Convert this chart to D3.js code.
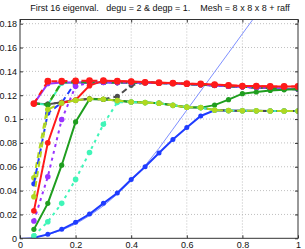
<!DOCTYPE html>
<html><head><meta charset="utf-8">
<script src="https://cdn.jsdelivr.net/npm/d3@7"></script>
<style>body{margin:0;background:#fff}svg{display:block}text{font-family:"Liberation Sans",Arial,sans-serif}</style>
</head><body><svg id="c" width="305" height="249"></svg>
<script>
const titleText = "First 16 eigenval.   degu = 2 & degp = 1.    Mesh = 8 x 8 x 8 + raff";
const xTicks = [0, 0.2, 0.4, 0.6, 0.8, 1];
const xTickLabels = ["0", "0.2", "0.4", "0.6", "0.8", "1"];
const yTicks = [0, 0.02, 0.04, 0.06, 0.08, 0.1, 0.12, 0.14, 0.16, 0.18];
const yTickLabels = ["0", "0.02", "0.04", "0.06", "0.08", "0.1", "0.12", "0.14", "0.16", "0.18"];

const xVals = [0.05,0.1,0.15,0.2,0.25,0.3,0.35,0.4,0.45,0.5,0.55,0.6,0.65,0.7,0.75,0.8,0.85,0.9,0.95,1.0];

const refX = [0,0.05,0.1,0.15,0.2,0.25,0.3,0.35,0.4,0.45,0.5,0.55,0.6,0.65,0.7,0.75,0.8,0.85];
const refY = [0,0.0007,0.003,0.0068,0.012,0.019,0.0272,0.037,0.048,0.061,0.0755,0.0915,0.1075,0.1235,0.1395,0.1555,0.1715,0.1875];

const blueSolid   = [0.0005,0.0033,0.0075,0.0134,0.0203,0.0293,0.0380,0.0494,0.0600,0.0716,0.0828,0.0929,0.1026,0.1074,0.1070,0.1069,0.1068,0.1068,0.1067,0.1067];
const greySolid   = [0.1130,0.1125,0.1140,0.1157,0.1170,0.1166,0.1155,0.1143,0.1138,0.1133,0.1115,0.1100,0.1096,0.1075,0.1071,0.1070,0.1069,0.1068,0.1068,0.1067];
const cyanSolid   = [0.1130,0.1120,0.1300,0.1307,0.1307,0.1307,0.1306,0.1306,0.1305,0.1303,0.1299,0.1294,0.1288,0.1282,0.1276,0.1270,0.1264,0.1259,0.1254,0.1250];
const ygDashedB   = [0.0507,0.1120,0.1310,0.1307,0.1307,0.1307,0.1306,0.1306,0.1305,0.1303,0.1299,0.1294,0.1288,0.1282,0.1276,0.1270,0.1264,0.1259,0.1254,0.1250];
const blueDashed  = [0.0457,0.1050,0.1137,0.1310,0.1307,0.1307,0.1306,0.1306,0.1305,0.1303,0.1299,0.1294,0.1288,0.1282,0.1276,0.1270,0.1264,0.1259,0.1254,0.1250];
const greyDashed  = [0.1130,0.1125,0.1140,0.1157,0.1170,0.1166,0.1190,0.1283,0.1307,0.1303,0.1299,0.1294,0.1288,0.1282,0.1276,0.1270,0.1264,0.1259,0.1254,0.1250];
const purpleDashed= [0.0145,0.0516,0.0996,0.1275,0.1307,0.1307,0.1306,0.1306,0.1305,0.1303,0.1299,0.1294,0.1288,0.1282,0.1276,0.1270,0.1264,0.1259,0.1254,0.1250];
const greenDashed = [0.1130,0.1120,0.1310,0.1307,0.1307,0.1307,0.1306,0.1306,0.1305,0.1303,0.1299,0.1294,0.1288,0.1282,0.1276,0.1270,0.1264,0.1259,0.1254,0.1250];
const purpleSolid = [0.1130,0.1297,0.1307,0.1307,0.1307,0.1307,0.1306,0.1306,0.1305,0.1303,0.1299,0.1294,0.1288,0.1282,0.1276,0.1270,0.1264,0.1259,0.1254,0.1250];
const greenSolid  = [0.0075,0.0293,0.0613,0.0976,0.1166,0.1166,0.1155,0.1143,0.1138,0.1133,0.1115,0.1100,0.1096,0.1117,0.1163,0.1213,0.1227,0.1240,0.1245,0.1253];
const cyanDashed  = [0.0020,0.0139,0.0293,0.0494,0.0720,0.0956,0.1140,0.1143,0.1138,0.1133,0.1115,0.1100,0.1096,0.1075,0.1071,0.1070,0.1069,0.1068,0.1068,0.1067];
const redSolid    = [0.0230,0.0800,0.1135,0.1160,0.1280,0.1322,0.1320,0.1316,0.1310,0.1305,0.1302,0.1297,0.1294,0.1289,0.1283,0.1277,0.1277,0.1274,0.1274,0.1274];
const redDashed   = [0.1130,0.1318,0.1318,0.1320,0.1322,0.1322,0.1318,0.1314,0.1308,0.1305,0.1302,0.1297,0.1294,0.1289,0.1283,0.1277,0.1277,0.1274,0.1274,0.1274];
const ygDashedA   = [0.0348,0.1080,0.1135,0.1157,0.1168,0.1166,0.1155,0.1143,0.1138,0.1133,0.1115,0.1100,0.1096,0.1075,0.1071,0.1070,0.1069,0.1068,0.1068,0.1067];

const C = {blue:"#1f3cff", red:"#ff1a1a", green:"#1f9e1f", purple:"#9933ff", cyan:"#40f5b8", yg:"#b0d820", grey:"#4d4d4d"};
const series = [
  {v: blueSolid,   c: C.blue,   d: null,  r: 2.5},
  {v: greySolid,   c: C.grey,   d: null,  r: 2.6},
  {v: cyanSolid,   c: C.cyan,   d: null,  r: 2.6},
  {v: ygDashedB,   c: C.yg,     d: "6,4", r: 2.8},
  {v: blueDashed,  c: C.blue,   d: "6,4", r: 2.6},
  {v: greyDashed,  c: C.grey,   d: "6,4", r: 2.6},
  {v: purpleSolid, c: C.purple, d: null,  r: 2.6},
  {v: greenDashed, c: C.green,  d: "6,4", r: 2.6},
  {v: purpleDashed,c: C.purple, d: "3,4", r: 2.8},
  {v: greenSolid,  c: C.green,  d: null,  r: 2.6},
  {v: cyanDashed,  c: C.cyan,   d: "3,4", r: 2.8},
  {v: redSolid,    c: C.red,    d: null,  r: 2.8},
  {v: ygDashedA,   c: C.yg,     d: "6,4", r: 2.8},
  {v: redDashed,   c: C.red,    d: "6,4", r: 3.4}
];

const svg = d3.select("#c");
const L = 20, R = 298, T = 19.5, B = 238.3;
const x = d3.scaleLinear().domain([0, 1]).range([L, R]);
const y = d3.scaleLinear().domain([0, 0.1835]).range([B, T]);

svg.append("text").attr("x", 160).attr("y", 11).attr("text-anchor", "middle")
  .attr("font-size", 9).attr("fill", "#111").attr("xml:space","preserve").text(titleText);

// grid
const g = svg.append("g");
g.selectAll(".gx").data(xTicks.slice(1, -1)).enter().append("line")
  .attr("x1", d => x(d)).attr("x2", d => x(d)).attr("y1", T).attr("y2", B)
  .attr("stroke", "#b0b0b0").attr("stroke-width", 0.8).attr("stroke-dasharray", "1,2");
g.selectAll(".gy").data(yTicks.slice(1)).enter().append("line")
  .attr("y1", d => y(d)).attr("y2", d => y(d)).attr("x1", L).attr("x2", R)
  .attr("stroke", "#b0b0b0").attr("stroke-width", 0.8).attr("stroke-dasharray", "1,2");

const clip = svg.append("clipPath").attr("id", "clp").append("rect")
  .attr("x", L).attr("y", T).attr("width", R - L).attr("height", B - T);
const plot = svg.append("g").attr("clip-path", "url(#clp)");

// thin reference curve
plot.append("path").datum(refX.map((d, i) => [d, refY[i]]))
  .attr("d", d3.line().x(d => x(d[0])).y(d => y(d[1])))
  .attr("fill", "none").attr("stroke", "#6f82ff").attr("stroke-width", 0.9);

const line = d3.line().x((d, i) => x(xVals[i])).y(d => y(d));
series.forEach(s => {
  plot.append("path").datum(s.v).attr("d", line)
    .attr("fill", "none").attr("stroke", s.c).attr("stroke-width", 2)
    .attr("stroke-dasharray", s.d);
  plot.selectAll(null).data(s.v).enter().append("circle")
    .attr("cx", (d, i) => x(xVals[i])).attr("cy", d => y(d)).attr("r", s.r)
    .attr("fill", s.c);
});

// axes box
svg.append("rect").attr("x", L).attr("y", T).attr("width", R - L).attr("height", B - T)
  .attr("fill", "none").attr("stroke", "#333").attr("stroke-width", 1);

const axB = svg.append("g").attr("transform", `translate(0,${B})`)
  .call(d3.axisBottom(x).tickValues(xTicks).tickSize(-3).tickPadding(3.5).tickFormat((d, i) => xTickLabels[i]));
const axT = svg.append("g").attr("transform", `translate(0,${T})`)
  .call(d3.axisTop(x).tickValues(xTicks).tickSize(-3).tickFormat(""));
const axL = svg.append("g").attr("transform", `translate(${L},0)`)
  .call(d3.axisLeft(y).tickValues(yTicks).tickSize(-3).tickPadding(3).tickFormat((d, i) => yTickLabels[i]));
const axR = svg.append("g").attr("transform", `translate(${R},0)`)
  .call(d3.axisRight(y).tickValues(yTicks).tickSize(-3).tickFormat(""));
[axB, axT, axL, axR].forEach(a => {
  a.select(".domain").remove();
  a.selectAll(".tick line").attr("stroke", "#333");
  a.selectAll("text").attr("font-size", 9).attr("fill", "#111").attr("font-family", "Liberation Sans, Arial, sans-serif");
});
</script></body></html>
